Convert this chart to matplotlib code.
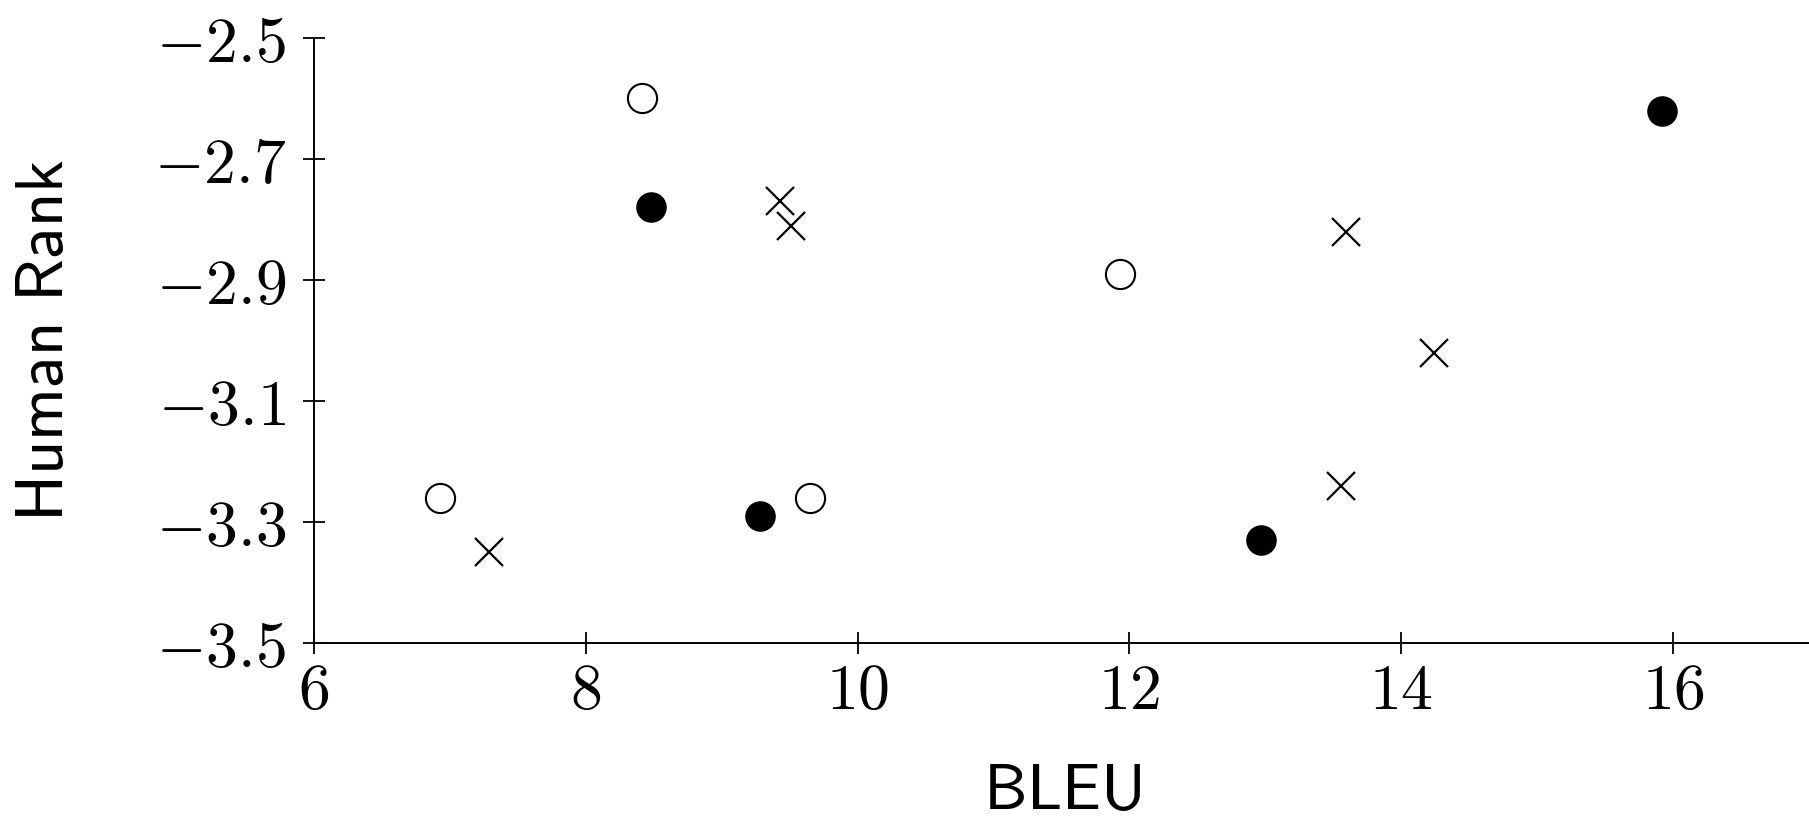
import numpy as np
import matplotlib.pyplot as plt

plt.rcParams['mathtext.fontset'] = 'cm'
plt.rcParams['font.family'] = 'serif'
plt.rcParams['font.serif'] = ['DejaVu Serif']

# open circles
open_x = [8.41, 6.93, 9.65, 11.93]
open_y = [-2.60, -3.26, -3.26, -2.89]
# filled circles
fill_x = [8.48, 9.28, 12.97, 15.92]
fill_y = [-2.78, -3.29, -3.33, -2.62]
# crosses
cross_x = [7.29, 9.43, 9.51, 13.59, 14.24, 13.56]
cross_y = [-3.35, -2.77, -2.81, -2.82, -3.02, -3.24]

xticks = [6, 8, 10, 12, 14, 16]
yticks = [-2.5, -2.7, -2.9, -3.1, -3.3, -3.5]

fig = plt.figure(figsize=(18.09, 8.22), dpi=100)
ax = fig.add_axes([0.1736, 0.2178, 0.8264, 0.736])

ax.plot(open_x, open_y, 'o', ms=21, mfc='white', mec='black', mew=1.5, clip_on=False)
ax.plot(fill_x, fill_y, 'o', ms=21, mfc='black', mec='black', clip_on=False)
ax.plot(cross_x, cross_y, 'x', ms=20, mec='black', mew=1.6, clip_on=False)

ax.set_xlim(6, 17)
ax.set_ylim(-3.5, -2.5)
ax.set_xticks(xticks)
ax.set_yticks(yticks)
ax.set_xticklabels(['$%d$' % t for t in xticks])
ax.set_yticklabels(['$%.1f$' % t for t in yticks])

for s in ['top', 'right']:
    ax.spines[s].set_visible(False)
for s in ['left', 'bottom']:
    ax.spines[s].set_linewidth(1.4)
ax.tick_params(direction='inout', length=16, width=1.3, labelsize=46)
ax.tick_params(axis='y', pad=12)
ax.tick_params(axis='x', pad=5)

fig.text(0.587, 0.038, r'$\mathsf{BLEU}$', fontsize=47, ha='center', va='center')
fig.text(0.0243, 0.586, r'$\mathsf{Human\ Rank}$', fontsize=48, ha='center', va='center',
         rotation=90)

fig.savefig('out.png', dpi=100)
